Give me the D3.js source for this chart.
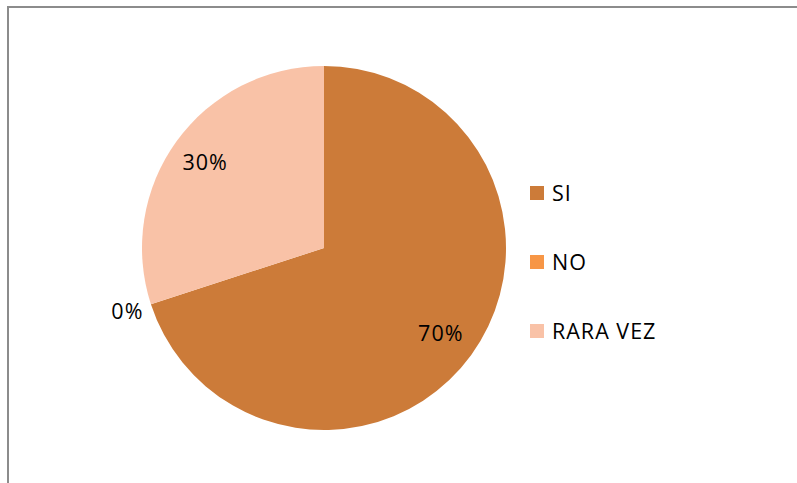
<!DOCTYPE html>
<html>
<head>
<meta charset="utf-8">
<script src="https://cdn.jsdelivr.net/npm/d3@7"></script>
<style>
  body { margin: 0; background: #fff; }
  svg { display: block; font-family: "Open Sans", sans-serif; }
</style>
</head>
<body>
<div id="chart"></div>
<script>
// data
var categories = ['SI', 'NO', 'RARA VEZ']
var values = [70, 0, 30]
var colors = ['#CC7B39', '#F79646', '#F9C2A7']

var width = 797, height = 483

var svg = d3.select('#chart').append('svg')
    .attr('width', width)
    .attr('height', height)

// outer frame (only top and left edges visible)
svg.append('path')
    .attr('d', 'M8,483 V7 H797')
    .attr('fill', 'none')
    .attr('stroke', '#8c8c8c')
    .attr('stroke-width', 2)

var cx = 324, cy = 248, r = 182

var pie = d3.pie().sort(null).value(d => d)
var arcs = pie(values)

var arc = d3.arc().innerRadius(0).outerRadius(r)

var g = svg.append('g').attr('transform', `translate(${cx},${cy})`)

g.selectAll('path.slice')
    .data(arcs)
    .enter().append('path')
    .attr('class', 'slice')
    .attr('d', arc)
    .attr('fill', (d, i) => colors[i])

// data labels (0% sits outside the pie)
var labelR = [0.8, 1.13, 0.8]

g.selectAll('text.lbl')
    .data(arcs)
    .enter().append('text')
    .attr('class', 'lbl')
    .attr('transform', (d, i) => {
        var c = d3.arc().innerRadius(r * labelR[i]).outerRadius(r * labelR[i]).centroid(d)
        return `translate(${c[0] - 1},${c[1]})`
    })
    .attr('text-anchor', 'middle')
    .attr('dy', '0.35em')
    .attr('font-size', 21.5)
    .attr('letter-spacing', 1)
    .attr('fill', '#000')
    .text(d => d.data + '%')

// legend
var legend = svg.append('g').attr('transform', 'translate(530,186)')

var item = legend.selectAll('g')
    .data(categories)
    .enter().append('g')
    .attr('transform', (d, i) => `translate(0,${i * 69})`)

item.append('rect')
    .attr('width', 14)
    .attr('height', 14)
    .attr('fill', (d, i) => colors[i])

item.append('text')
    .attr('x', 22)
    .attr('y', 15)
    .attr('font-size', 21.5)
    .attr('letter-spacing', 1)
    .attr('fill', '#000')
    .text(d => d)
</script>
</body>
</html>
